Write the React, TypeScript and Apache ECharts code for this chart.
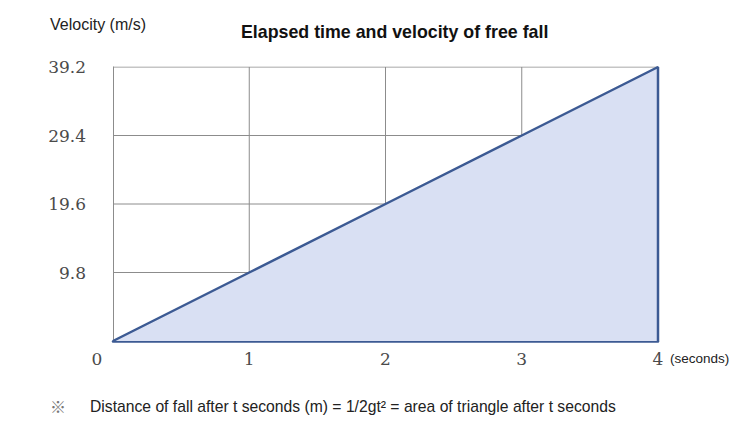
import React, { useEffect, useRef } from "react";
import * as echarts from "echarts";

const times = [0, 1, 2, 3, 4];
const velocities = [0, 9.8, 19.6, 29.4, 39.2];
const yTicks = [9.8, 19.6, 29.4, 39.2];

const BLUE = "#3c5a93";
const FILL = "#d9e0f3";
const GRID = "#8c8c8c";
const LABEL = "#4a4a4a";
const SERIF = "'DejaVu Serif'";

export default function App() {
  const ref = useRef<HTMLDivElement>(null);
  useEffect(() => {
    if (!ref.current) return;
    const chart = echarts.init(ref.current, null, { renderer: "svg" });
    const vMax = velocities[velocities.length - 1];
    const tMax = times[times.length - 1];
    const gridSeries: any[] = [];
    times.forEach((t, i) => {
      if (i === 0) return;
      gridSeries.push({
        type: "line",
        data: [[0, velocities[i]], [t, velocities[i]]],
        symbol: "none",
        silent: true,
        lineStyle: { color: GRID, width: 1 },
        z: 1,
      });
      if (i < times.length - 1) {
        gridSeries.push({
          type: "line",
          data: [[t, velocities[i]], [t, vMax]],
          symbol: "none",
          silent: true,
          lineStyle: { color: GRID, width: 1 },
          z: 1,
        });
      }
    });
    const triangle = times.map((t, i) => [t, velocities[i]]);
    triangle.push([tMax, 0]);
    chart.setOption({
      animation: false,
      title: {
        text: "Elapsed time and velocity of free fall",
        left: 236,
        top: 18,
        textStyle: { fontFamily: "Liberation Sans", fontSize: 17.8, fontWeight: "bold", color: "#111" },
      },
      grid: { left: 113, right: 78, top: 67, bottom: 87 },
      xAxis: {
        type: "value",
        min: 0,
        max: 4,
        interval: 1,
        name: "(seconds)",
        nameLocation: "end",
        nameGap: 12,
        nameTextStyle: {
          fontFamily: "Liberation Sans",
          fontSize: 13.5,
          color: "#222",
          verticalAlign: "top",
          padding: [10, 0, 0, 0],
        },
        axisLine: { lineStyle: { color: BLUE, width: 2.5 } },
        axisTick: { show: false },
        splitLine: { show: false },
        axisLabel: {
          margin: 9,
          fontFamily: SERIF,
          fontSize: 17,
          color: LABEL,
          formatter: (v: number) => (v === 0 ? "{z|0}" : String(v)),
          rich: {
            z: { fontFamily: SERIF, fontSize: 17, color: LABEL, padding: [0, 32, 0, 0] },
          },
        },
      },
      yAxis: {
        type: "value",
        min: 0,
        max: 39.2,
        interval: 9.8,
        axisLine: { show: true, lineStyle: { color: GRID, width: 1 } },
        axisTick: { show: false },
        splitLine: { show: false },
        axisLabel: {
          margin: 27,
          fontFamily: SERIF,
          fontSize: 17,
          color: LABEL,
          formatter: (v: number) => {
            const m = yTicks.find((t) => Math.abs(t - v) < 1e-6);
            return m === undefined ? "" : m.toFixed(1);
          },
        },
      },
      series: [
        ...gridSeries,
        {
          type: "line",
          data: triangle,
          symbol: "none",
          silent: true,
          lineStyle: { color: BLUE, width: 2.5 },
          areaStyle: { color: FILL, opacity: 1 },
          z: 5,
        },
      ],
      graphic: [
        {
          type: "text",
          left: 50,
          top: 16,
          style: { text: "Velocity (m/s)", font: "16px 'Liberation Sans'", fill: "#222" },
        },
        {
          type: "text",
          left: 50,
          top: 398,
          style: { text: "※", font: "16px 'Noto Sans CJK JP'", fill: "#777" },
        },
        {
          type: "text",
          left: 90,
          top: 398,
          style: {
            text: "Distance of fall after t seconds (m) = 1/2gt² = area of triangle after t seconds",
            font: "15.7px 'Liberation Sans'",
            fill: "#222",
          },
        },
      ],
    });
    return () => chart.dispose();
  }, []);
  return <div ref={ref} style={{ position: "absolute", left: 0, top: 0, width: 736, height: 428 }} />;
}
